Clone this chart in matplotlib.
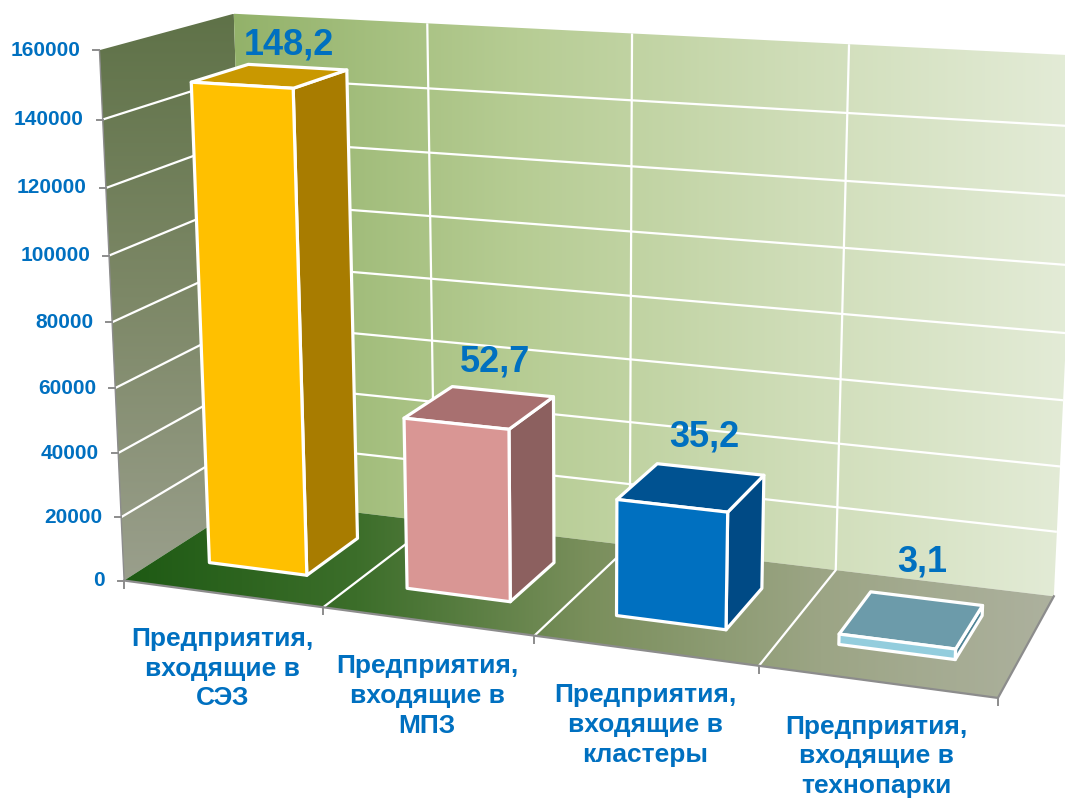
import numpy as np
import matplotlib.pyplot as plt
from matplotlib.patches import Polygon
from matplotlib.colors import LinearSegmentedColormap

plt.rcParams['font.family'] = ['Liberation Sans', 'DejaVu Sans']
plt.rcParams['font.weight'] = 'bold'

# data
categories = ["Предприятия,\nвходящие в\nСЭЗ",
              "Предприятия,\nвходящие в\nМПЗ",
              "Предприятия,\nвходящие в\nкластеры",
              "Предприятия,\nвходящие в\nтехнопарки"]
values = [148200, 52700, 35200, 3100]
value_labels = ["148,2", "52,7", "35,2", "3,1"]
y_ticks = [0, 20000, 40000, 60000, 80000, 100000, 120000, 140000, 160000]
y_max = 160000

front_colors = ["#FFC000", "#D99694", "#0070C0", "#93CDDD"]
side_colors = ["#A87C00", "#8C605F", "#004A85", "#4F8496"]
top_colors = ["#C99800", "#A87070", "#005291", "#6C9BAA"]
text_blue = "#0070C0"

# view setup: frame anchors of the 3d box (category, value share, depth) -> pixel
view_anchors = [
    ((0, 0, 0), (125, 580)), ((0, 1, 0), (99, 50)), ((0, 1, 1), (233, 15)),
    ((1, 1, 1), (428, 24)), ((2, 1, 1), (632, 35)), ((3, 1, 1), (849, 43)),
    ((1, 0, 0), (323, 609)), ((2, 0, 0), (535, 637)), ((3, 0, 0), (758, 667)),
    ((4, 0, 0), (997, 697)), ((4, 0, 1), (1054, 596)), ((1, 0, 1), (432, 521)),
    ((2, 0, 1), (632, 545)), ((3, 0, 1), (836, 570)),
    ((0, .875, 0), (103, 118)), ((0, .75, 0), (106, 188)), ((0, .625, 0), (109, 255)),
    ((0, .5, 0), (112, 323)), ((0, .375, 0), (115, 387)), ((0, .25, 0), (118, 453)),
    ((0, .125, 0), (122, 517)),
    ((1, .875, 1), (428, 88)), ((1, .75, 1), (429, 153)),
    ((2, .875, 1), (632, 100)), ((2, .75, 1), (632, 166)),
]


def fit_camera(anchors):
    rows = []
    for (X, Y, Z), (u, v) in anchors:
        u, v = u / 1000.0, v / 1000.0
        rows.append([X, Y, Z, 1, 0, 0, 0, 0, -u * X, -u * Y, -u * Z, -u])
        rows.append([0, 0, 0, 0, X, Y, Z, 1, -v * X, -v * Y, -v * Z, -v])
    _, _, vt = np.linalg.svd(np.array(rows, dtype=float))
    return vt[-1].reshape(3, 4)


P = fit_camera(view_anchors)


def proj(x, val, z):
    h = P @ np.array([x, val / y_max, z, 1.0])
    return h[0] / h[2] * 1000.0, h[1] / h[2] * 1000.0


fig = plt.figure(figsize=(10.65, 7.98), dpi=100)
ax = fig.add_axes([0, 0, 1, 1])


def gradient_fill(pts, colors, axis='x', zorder=1):
    pts = np.array(pts)
    x0, y0 = pts.min(axis=0)
    x1, y1 = pts.max(axis=0)
    cmap = LinearSegmentedColormap.from_list('g', colors)
    if axis == 'x':
        t = np.tile(np.linspace(0, 1, 256), (8, 1))
    else:
        t = np.tile(np.linspace(0, 1, 256)[:, None], (1, 8))
    im = ax.imshow(cmap(t), extent=(x0, x1, y1, y0), aspect='auto',
                   origin='upper', zorder=zorder, interpolation='bilinear')
    clip = Polygon(pts, closed=True, transform=ax.transData)
    im.set_clip_path(clip)


def face(corners, color, zorder, lw=2.3):
    pts = [proj(*c) for c in corners]
    ax.add_patch(Polygon(pts, closed=True, facecolor=color, edgecolor='white',
                         linewidth=lw, joinstyle='round', zorder=zorder))


n = len(categories)

# walls and floor
left_wall = [proj(0, 0, 0), proj(0, y_max, 0), proj(0, y_max, 1), proj(0, 0, 1)]
back_wall = [proj(0, 0, 1), proj(n, 0, 1), proj(n, y_max, 1), proj(0, y_max, 1)]
floor = [proj(0, 0, 0), proj(n, 0, 0), proj(n, 0, 1), proj(0, 0, 1)]
gradient_fill(left_wall, ["#5F7248", "#7D8867", "#9A9F8C"], axis='y')
gradient_fill(back_wall, ["#93B26A", "#B6CC93", "#CFDDB8", "#E4ECD8"], axis='x')
gradient_fill(floor, ["#1E5A14", "#3C6E2A", "#7A8F5C", "#9CA585", "#ADB19E"], axis='x')

# grid lines
for v in y_ticks[1:-1]:
    xs, ys = zip(proj(0, v, 0), proj(0, v, 1), proj(n, v, 1))
    ax.plot(xs, ys, color='white', lw=1.6, zorder=2, solid_capstyle='butt')
for k in range(1, n):
    xs, ys = zip(proj(k, 0, 0), proj(k, 0, 1), proj(k, y_max, 1))
    ax.plot(xs, ys, color='white', lw=1.6, zorder=2, solid_capstyle='butt')

# frame edges and ticks
xs, ys = zip(proj(0, 0, 0), proj(0, y_max, 0))
ax.plot(xs, ys, color='#8C8C8C', lw=1.0, zorder=2)
xs, ys = zip(proj(0, 0, 0), proj(n, 0, 0), proj(n, 0, 1))
ax.plot(xs, ys, color='#8C8C8C', lw=1.6, zorder=2)
for v in y_ticks:
    px, py = proj(0, v, 0)
    ax.plot([px - 6, px], [py, py], color='#8C8C8C', lw=1.4, zorder=2)
    ax.text(px - 19, py, str(v), ha='right', va='center', fontsize=15,
            fontweight='bold', color=text_blue)
for k in range(n + 1):
    px, py = proj(k, 0, 0)
    ax.plot([px, px], [py, py + 7], color='#8C8C8C', lw=1.4, zorder=2)

# bars
bx0, bx1 = 0.25, 0.75
bz0, bz1 = 0.28, 0.72
for i, v in enumerate(values):
    a, b = i + bx0, i + bx1
    face([(b, 0, bz0), (b, 0, bz1), (b, v, bz1), (b, v, bz0)], side_colors[i], 3)
    face([(a, v, bz0), (b, v, bz0), (b, v, bz1), (a, v, bz1)], top_colors[i], 3)
    face([(a, 0, bz0), (b, 0, bz0), (b, v, bz0), (a, v, bz0)], front_colors[i], 4)
    lx = proj(i + 0.5, v, 0.65)[0]
    ly = proj(i + 0.5, v, 1)[1]
    ax.text(lx, ly - 11, value_labels[i], ha='center', va='center', fontsize=26,
            fontweight='bold', color=text_blue, zorder=6)
    cx, cy = proj(i + 0.5, 0, 0)
    ax.text(cx, cy + 33, categories[i], ha='center', va='top', fontsize=19,
            fontweight='bold', color=text_blue, linespacing=1.31, zorder=6)

ax.set_xlim(0, 1065)
ax.set_ylim(798, 0)
ax.axis('off')
fig.savefig('out.png', dpi=100)
